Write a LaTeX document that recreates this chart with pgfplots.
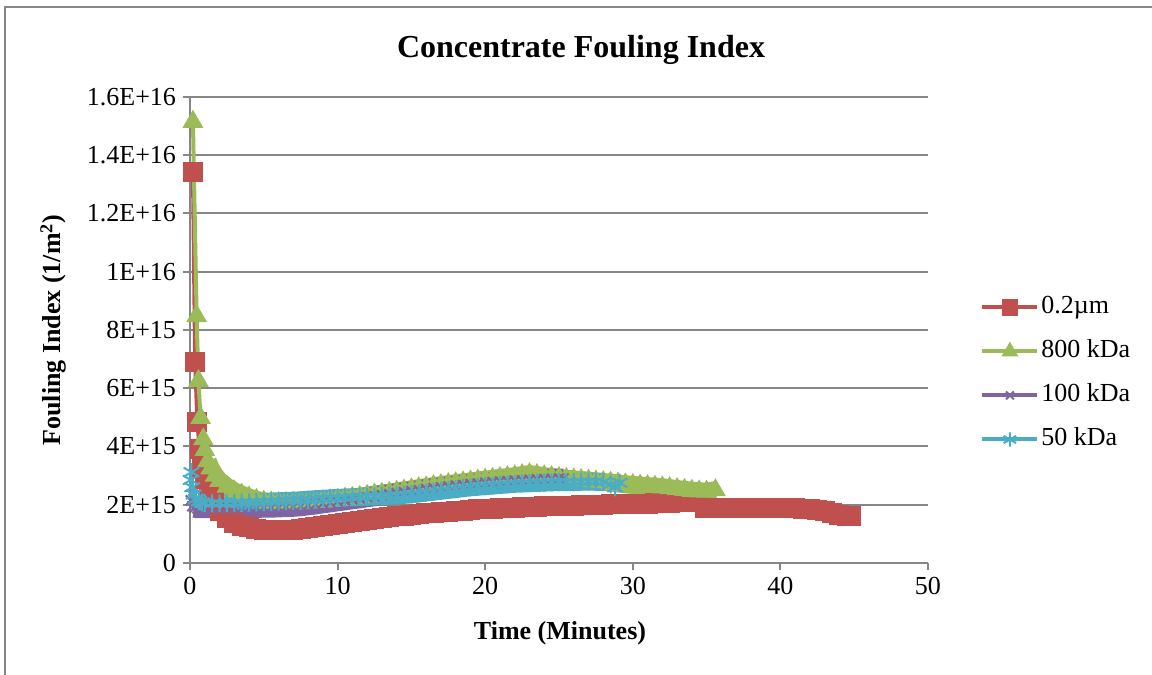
\documentclass[border=0pt]{standalone}
\usepackage{pgfplots}
\usepackage{pgfplotstable}
\pgfplotsset{compat=1.18}
\usepackage{fontspec}
\setmainfont{Liberation Serif}
\definecolor{cRed}{HTML}{C0504D}
\definecolor{cGreen}{HTML}{9BBB59}
\definecolor{cPurple}{HTML}{8064A2}
\definecolor{cCyan}{HTML}{4BACC6}
\definecolor{gridgray}{HTML}{868686}
\pgfplotstableread{
x y
0.2 13.43e15
0.35 6.9e15
0.5 4.85e15
0.65 3.9e15
0.8 3.3e15
1.0 2.9e15
1.3 2.45e15
1.6 2.1e15
2.0 1.8e15
2.5 1.55e15
3.0 1.38e15
3.5 1.28e15
4.0 1.22e15
4.5 1.17e15
5.0 1.14e15
5.5 1.12e15
6.0 1.12e15
6.5 1.13e15
7.0 1.15e15
7.5 1.18e15
8.0 1.2e15
8.5 1.23e15
9.0 1.27e15
9.5 1.31e15
10.0 1.35e15
10.5 1.38e15
11.0 1.42e15
11.5 1.45e15
12.0 1.48e15
12.5 1.51e15
13.0 1.54e15
13.5 1.57e15
14.0 1.6e15
14.5 1.62e15
15.0 1.64e15
15.5 1.67e15
16.0 1.7e15
16.5 1.72e15
17.0 1.74e15
17.5 1.76e15
18.0 1.78e15
18.5 1.8e15
19.0 1.82e15
19.5 1.84e15
20.0 1.86e15
20.5 1.87e15
21.0 1.88e15
21.5 1.89e15
22.0 1.9e15
22.5 1.91e15
23.0 1.92e15
23.5 1.93e15
24.0 1.94e15
24.5 1.95e15
25.0 1.95e15
25.5 1.96e15
26.0 1.97e15
26.5 1.98e15
27.0 1.99e15
27.5 2.0e15
28.0 2.0e15
28.5 2.01e15
29.0 2.01e15
29.5 2.02e15
30.0 2.02e15
30.5 2.03e15
31.0 2.04e15
31.5 2.05e15
32.0 2.06e15
32.5 2.07e15
33.0 2.08e15
33.5 2.09e15
34.0 2.1e15
34.5 2.1e15
34.9 1.88e15
35.5 1.89e15
36.0 1.9e15
36.5 1.9e15
37.0 1.9e15
37.5 1.9e15
38.0 1.9e15
38.5 1.9e15
39.0 1.89e15
39.5 1.89e15
40.0 1.89e15
40.5 1.88e15
41.0 1.88e15
41.5 1.87e15
42.0 1.85e15
42.5 1.82e15
43.0 1.78e15
43.5 1.72e15
44.0 1.66e15
44.5 1.62e15
44.8 1.6e15
}\tabRed
\pgfplotstableread{
x y
0.2 15.15e15
0.45 8.48e15
0.57 6.25e15
0.72 4.98e15
0.9 4.25e15
1.0 3.88e15
1.2 3.5e15
1.4 3.25e15
1.7 3.0e15
2.0 2.82e15
2.5 2.62e15
3.0 2.46e15
3.5 2.35e15
4.0 2.25e15
4.5 2.17e15
5.0 2.11e15
5.5 2.08e15
6.0 2.06e15
6.5 2.05e15
7.0 2.05e15
7.5 2.06e15
8.0 2.08e15
8.5 2.1e15
9.0 2.12e15
9.5 2.15e15
10.0 2.18e15
10.5 2.21e15
11.0 2.24e15
11.5 2.27e15
12.0 2.31e15
12.5 2.35e15
13.0 2.38e15
13.5 2.41e15
14.0 2.45e15
14.5 2.49e15
15.0 2.53e15
15.5 2.57e15
16.0 2.6e15
16.5 2.64e15
17.0 2.67e15
17.5 2.71e15
18.0 2.74e15
18.5 2.77e15
19.0 2.8e15
19.5 2.83e15
20.0 2.86e15
20.5 2.89e15
21.0 2.92e15
21.5 2.95e15
22.0 2.98e15
22.5 3.02e15
23.0 3.05e15
23.5 3.02e15
24.0 2.98e15
24.5 2.95e15
25.0 2.92e15
25.5 2.89e15
26.0 2.87e15
26.5 2.85e15
27.0 2.83e15
27.5 2.8e15
28.0 2.78e15
28.5 2.76e15
29.0 2.73e15
29.5 2.7e15
30.0 2.68e15
30.5 2.66e15
31.0 2.64e15
31.5 2.62e15
32.0 2.6e15
32.5 2.57e15
33.0 2.54e15
33.5 2.51e15
34.0 2.48e15
34.5 2.46e15
35.0 2.45e15
35.6 2.5e15
}\tabGreen
\pgfplotstableread{
x y
0.05 2.15e15
0.15 1.95e15
0.3 1.9e15
0.5 1.88e15
1.0 1.88e15
1.5 1.88e15
2.0 1.88e15
2.5 1.88e15
3.0 1.88e15
3.5 1.88e15
4.0 1.89e15
4.5 1.89e15
5.0 1.9e15
5.5 1.9e15
6.0 1.91e15
6.5 1.92e15
7.0 1.93e15
7.5 1.95e15
8.0 1.98e15
8.5 2.01e15
9.0 2.05e15
9.5 2.08e15
10.0 2.12e15
10.5 2.15e15
11.0 2.19e15
11.5 2.22e15
12.0 2.26e15
12.5 2.29e15
13.0 2.33e15
13.5 2.36e15
14.0 2.4e15
14.5 2.43e15
15.0 2.47e15
15.5 2.5e15
16.0 2.54e15
16.5 2.57e15
17.0 2.6e15
17.5 2.63e15
18.0 2.66e15
18.5 2.68e15
19.0 2.71e15
19.5 2.73e15
20.0 2.76e15
20.5 2.78e15
21.0 2.8e15
21.5 2.81e15
22.0 2.83e15
22.5 2.84e15
23.0 2.86e15
23.5 2.87e15
24.0 2.88e15
24.5 2.89e15
25.0 2.9e15
25.3 2.9e15
}\tabPurple
\pgfplotstableread{
x y
0.05 2.85e15
0.1 3.12e15
0.15 2.6e15
0.25 2.35e15
0.4 2.2e15
0.6 2.12e15
0.8 2.08e15
1.0 2.06e15
1.5 2.05e15
2.0 2.05e15
2.5 2.05e15
3.0 2.06e15
3.5 2.07e15
4.0 2.08e15
4.5 2.09e15
5.0 2.1e15
5.5 2.11e15
6.0 2.12e15
6.5 2.13e15
7.0 2.14e15
7.5 2.15e15
8.0 2.17e15
8.5 2.19e15
9.0 2.2e15
9.5 2.22e15
10.0 2.23e15
10.5 2.25e15
11.0 2.26e15
11.5 2.27e15
12.0 2.28e15
12.5 2.29e15
13.0 2.3e15
13.5 2.31e15
14.0 2.32e15
14.5 2.34e15
15.0 2.36e15
15.5 2.39e15
16.0 2.42e15
16.5 2.45e15
17.0 2.48e15
17.5 2.51e15
18.0 2.54e15
18.5 2.57e15
19.0 2.6e15
19.5 2.62e15
20.0 2.64e15
20.5 2.66e15
21.0 2.68e15
21.5 2.7e15
22.0 2.72e15
22.5 2.73e15
23.0 2.74e15
23.5 2.75e15
24.0 2.76e15
24.5 2.77e15
25.0 2.78e15
25.5 2.78e15
26.0 2.78e15
26.5 2.79e15
27.0 2.79e15
27.5 2.79e15
28.0 2.78e15
28.5 2.7e15
28.8 2.6e15
29.1 2.75e15
}\tabCyan
\begin{document}
\begin{tikzpicture}
\useasboundingbox (0,0) rectangle (576pt,337.5pt);
\draw[gridgray, line width=1pt] (2.5pt,0pt) -- (2.5pt,334pt) -- (576pt,334pt);
\node[anchor=base, font=\fontsize{16}{19}\selectfont\bfseries] at (290.5pt,308.5pt) {Concentrate Fouling Index};
\node[anchor=base, font=\fontsize{13}{15}\selectfont\bfseries] at (280pt,17.5pt) {Time (Minutes)};
\node[anchor=base, rotate=90, font=\fontsize{13}{15}\selectfont\bfseries] at (30.5pt,172.5pt) {Fouling Index (1/m\textsuperscript{2})};
\begin{axis}[
  at={(95pt,56pt)}, anchor=south west,
  scale only axis, width=369pt, height=233pt,
  xmin=0, xmax=50, ymin=0, ymax=16e15,
  clip=false,
  axis x line*=bottom, axis y line*=left,
  axis line style={gridgray, line width=1pt, -},
  xtick={0,10,20,30,40,50},
  xticklabels={0,10,20,30,40,50},
  ytick={0,2e15,4e15,6e15,8e15,10e15,12e15,14e15,16e15},
  yticklabels={0,2E+15,4E+15,6E+15,8E+15,1E+16,1.2E+16,1.4E+16,1.6E+16},
  scaled y ticks=false,
  tick align=outside,
  major tick length=3.5pt,
  tick style={gridgray, line width=1pt},
  ymajorgrids,
  grid style={gridgray, line width=1pt},
  ticklabel style={font=\fontsize{13}{15}\selectfont},
  legend style={at={(1.0705,0.4067)}, anchor=west, draw=none, fill=none,
    inner sep=0pt, row sep=8pt, column sep=0pt,
    font=\fontsize{13}{15}\selectfont,
    nodes={inner sep=1pt, text height=9pt, text depth=3pt}},
  legend cell align=left,
  legend image code/.code={\draw[mark repeat=2,mark phase=2,#1,every mark/.append style={scale=0.8}] plot coordinates {(0pt,0pt) (13.75pt,0pt) (27.5pt,0pt)};},
  band/.style={line width=#1, line join=round, forget plot, mark=none},
]
% 0.2 um
\addplot[cRed, band=9.5pt, restrict x to domain=1.3:45] table[x=x,y=y] {\tabRed};
\addplot[cRed, line width=2pt, mark=square*, mark size=4.75pt, mark options={solid, fill=cRed, draw=cRed, line width=0.5pt}] table[x=x,y=y] {\tabRed};
\addlegendentry{0.2µm}
% 800 kDa
\addplot[cGreen, band=9pt, restrict x to domain=1.2:36] table[x=x,y=y] {\tabGreen};
\addplot[cGreen, line width=2pt, mark=triangle*, mark size=5.5pt, mark options={solid, fill=cGreen, draw=cGreen, line width=0.5pt}] table[x=x,y=y] {\tabGreen};
\addlegendentry{800 kDa}
% 100 kDa
\addplot[cPurple, band=10pt, restrict x to domain=0.3:26] table[x=x,y=y] {\tabPurple};
\addplot[cPurple, line width=2pt, mark=x, mark size=3.5pt, mark options={solid, draw=cPurple, line width=1pt}] table[x=x,y=y] {\tabPurple};
\addlegendentry{100 kDa}
% 50 kDa
\addplot[cCyan, band=9pt, restrict x to domain=0.4:28.2] table[x=x,y=y] {\tabCyan};
\addplot[cCyan, line width=2pt, mark=asterisk, mark size=4.5pt, mark options={solid, draw=cCyan, line width=1pt}] table[x=x,y=y] {\tabCyan};
\addlegendentry{50 kDa}
\end{axis}
\end{tikzpicture}
\end{document}
